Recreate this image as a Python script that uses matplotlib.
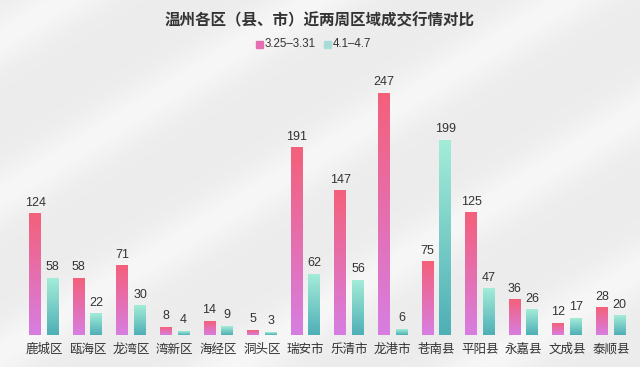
import matplotlib.pyplot as plt
import numpy as np
from matplotlib.colors import LinearSegmentedColormap
from matplotlib.patches import Rectangle

plt.rcParams['font.family'] = ['Noto Sans CJK SC', 'DejaVu Sans']
NUM_FONT = ['Liberation Sans', 'Noto Sans CJK SC']

# %%
districts = ['鹿城区', '瓯海区', '龙湾区', '湾新区', '海经区', '洞头区', '瑞安市',
             '乐清市', '龙港市', '苍南县', '平阳县', '永嘉县', '文成县', '泰顺县']
week1 = [124, 58, 71, 8, 14, 5, 191, 147, 247, 75, 125, 36, 12, 28]
week2 = [58, 22, 30, 4, 9, 3, 62, 56, 6, 199, 47, 26, 17, 20]
labels = ['3.25–3.31', '4.1–4.7']

pink = LinearSegmentedColormap.from_list('pink', ['#d77ee2', '#f4607a'])
teal = LinearSegmentedColormap.from_list('teal', ['#4eafb6', '#a4ecd8'])
grad = np.linspace(0, 1, 256).reshape(-1, 1)

fig = plt.figure(figsize=(6.4, 3.67), dpi=100)

# background with soft diagonal stripes
bg = fig.add_axes([0, 0, 1, 1])
yy, xx = np.mgrid[0:367, 0:640]
stripes = 0.5 + 0.5 * np.sin((xx + yy * 1.6) / 40.0)
bgimg = 0.925 + 0.04 * stripes ** 3
bg.imshow(bgimg, cmap='gray', vmin=0, vmax=1, aspect='auto', extent=[0, 1, 0, 1])
bg.axis('off')

ax = fig.add_axes([0, 32 / 367, 1, 242 / 367])
ax.axis('off')

w = 0.275
off = 0.203
for i, name in enumerate(districts):
    for val, dx, cm in ((week1[i], -off, pink), (week2[i], off, teal)):
        x0 = i + dx - w / 2
        ax.imshow(grad, cmap=cm, origin='lower', aspect='auto',
                  extent=[x0, x0 + w, 0, val], zorder=2)
        ax.text(i + dx, val + 5, str(val), ha='center', va='bottom',
                fontsize=9, color='#333333', family=NUM_FONT)
    ax.text(i, -8, name, ha='center', va='top', fontsize=9, color='#333333')
ax.set_xlim(-44 / 43.6, (640 - 44) / 43.6)
ax.set_ylim(0, 247)

fig.text(0.5, 1 - 20 / 367, '温州各区（县、市）近两周区域成交行情对比', ha='center',
         va='center', fontsize=11.2, fontweight='bold', color='#333333')

# legend
ly = 1 - 44 / 367
fig.patches.append(Rectangle((256 / 640, ly - 3.5 / 367), 7 / 640, 7 / 367,
                             transform=fig.transFigure, color='#e56fb0'))
fig.text(265 / 640, ly, labels[0], ha='left', va='center', fontsize=8.3,
         color='#333333', family=NUM_FONT)
fig.patches.append(Rectangle((324 / 640, ly - 3.5 / 367), 7 / 640, 7 / 367,
                             transform=fig.transFigure, color='#a9dcd6'))
fig.text(333 / 640, ly, labels[1], ha='left', va='center', fontsize=8.3,
         color='#333333', family=NUM_FONT)

fig.savefig('out.png', dpi=100)
